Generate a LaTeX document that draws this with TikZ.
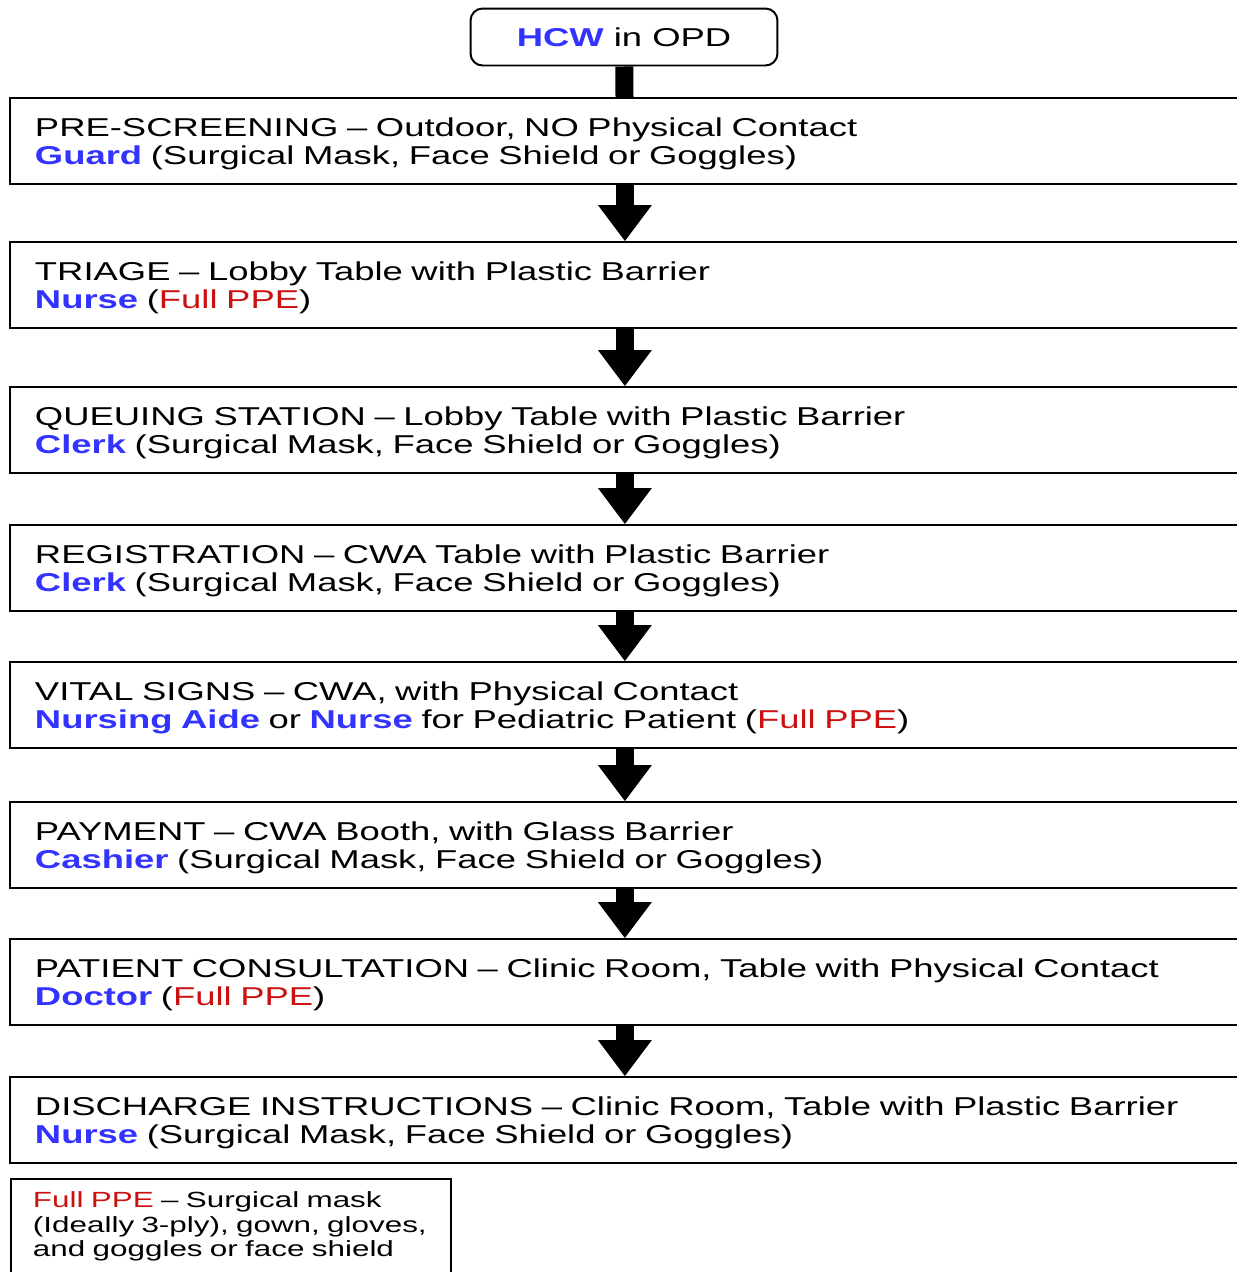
\documentclass[tikz,border=0pt]{standalone}
\usepackage{fontspec}
\setmainfont{Liberation Sans}[FakeStretch=1.41]
\newfontfamily\startfont{Liberation Sans}[Ligatures=TeX, FakeStretch=1.41]
\newfontfamily\legendfont{Liberation Sans}[Ligatures=TeX, FakeStretch=1.43, WordSpace=0.8]
\usepackage{xcolor}
\definecolor{hcwblue}{RGB}{51,51,255}
\definecolor{ppered}{RGB}{204,16,16}
\usetikzlibrary{arrows.meta,positioning}
\newcommand{\hcwname}[1]{\textbf{\color{hcwblue}#1}}
\newcommand{\fullppe}{\textcolor{ppered}{Full PPE}}
\DeclareRobustCommand{\stagefont}{\fontsize{14.7}{15.9}\selectfont
  \spaceskip=0.265cm\relax}
\tikzset{
  stagebox/.style={draw, line width=0.04cm, anchor=north west,
    minimum width=24.6cm, minimum height=1.72cm, inner xsep=0.5cm,
    text width=23.6cm, text height=0.49cm, align=left,
    font=\stagefont},
  flowarrow/.style={line width=0.36cm,
    -{Triangle[width=1.08cm,length=0.72cm,line width=0pt]}}
}

\begin{document}
\begin{tikzpicture}[x=0.02cm, y=-0.02cm]
\useasboundingbox (0,0) rectangle (1237,1272);

% --- Start ---
\node[draw, line width=0.04cm, rounded corners=0.24cm,
  minimum width=6.14cm, minimum height=1.14cm,
  font=\startfont\fontsize{14.7}{15.9}\selectfont]
  (hcw) at (624,37) {\hcwname{HCW} in OPD};

% --- Stages ---
\node[stagebox] (s1) at (9,97) {%
  PRE-SCREENING -- Outdoor, NO Physical Contact\\
  \hcwname{Guard} (Surgical Mask, Face Shield or Goggles)};
\node[stagebox] (s2) at (9,241) {%
  TRIAGE -- Lobby Table with Plastic Barrier\\
  \hcwname{Nurse} (\fullppe)};
\node[stagebox] (s3) at (9,386) {%
  QUEUING STATION -- Lobby Table with Plastic Barrier\\
  \hcwname{Clerk} (Surgical Mask, Face Shield or Goggles)};
\node[stagebox] (s4) at (9,524) {%
  REGISTRATION -- CWA Table with Plastic Barrier\\
  \hcwname{Clerk} (Surgical Mask, Face Shield or Goggles)};
\node[stagebox] (s5) at (9,661) {%
  VITAL SIGNS -- CWA, with Physical Contact\\
  \hcwname{Nursing Aide} or \hcwname{Nurse} for Pediatric Patient (\fullppe)};
\node[stagebox] (s6) at (9,801) {%
  PAYMENT -- CWA Booth, with Glass Barrier\\
  \hcwname{Cashier} (Surgical Mask, Face Shield or Goggles)};
\node[stagebox] (s7) at (9,938) {%
  PATIENT CONSULTATION -- Clinic Room, Table with Physical Contact\\
  \hcwname{Doctor} (\fullppe)};
\node[stagebox] (s8) at (9,1076) {%
  DISCHARGE INSTRUCTIONS -- Clinic Room, Table with Plastic Barrier\\
  \hcwname{Nurse} (Surgical Mask, Face Shield or Goggles)};

% --- Legend ---
\node[draw, line width=0.04cm, anchor=north west, inner xsep=0.44cm,
  inner ysep=0.26cm, text width=7.92cm, align=left,
  font=\legendfont\fontsize{12.5}{13.9}\selectfont]
  (legend) at (10,1178) {%
  \fullppe{} -- Surgical mask\\
  (Ideally 3-ply), gown, gloves,\\
  and goggles or face shield};

% --- Connectors ---
\draw[line width=0.36cm] (hcw) -- (s1);
\foreach \a/\b in {s1/s2,s2/s3,s3/s4,s4/s5,s5/s6,s6/s7,s7/s8}
  \draw[flowarrow] (\a) -- (\b);

\end{tikzpicture}
\end{document}
